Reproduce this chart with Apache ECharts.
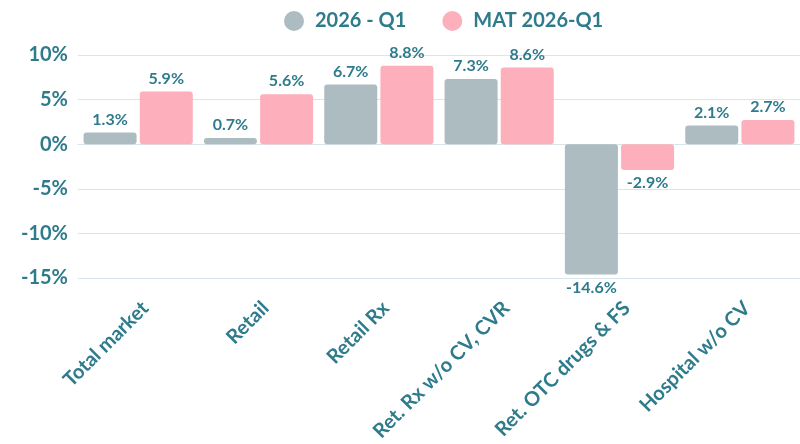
<!DOCTYPE html>
<html>
<head>
<meta charset="utf-8">
<script src="https://cdn.jsdelivr.net/npm/echarts@6/dist/echarts.min.js"></script>
<style>
  html, body { margin: 0; padding: 0; background: #fff; }
  #chart { width: 800px; height: 444px; }
</style>
</head>
<body>
<div id="chart"></div>
<script>
// 数据
const categories = ['Total market', 'Retail', 'Retail Rx', 'Ret. Rx w/o CV, CVR', 'Ret. OTC drugs & FS', 'Hospital w/o CV'];
const seriesNames = ['2026 - Q1', 'MAT 2026-Q1'];
const quarterValues = [1.3, 0.7, 6.7, 7.3, -14.6, 2.1];
const matValues = [5.9, 5.6, 8.8, 8.6, -2.9, 2.7];
const yTicks = { min: -15, max: 10, interval: 5 };

const teal = '#2e7b8c';
const greyBar = '#adbcc1';
const pinkBar = '#fdb0bb';
const gridColor = '#d8e5ea';

const chart = echarts.init(document.getElementById('chart'));

// 数值标签：正数在上，负数在下
const makeData = (values) => values.map(v => ({
  value: v,
  label: { position: v < 0 ? 'bottom' : 'top' }
}));

const barSeries = (name, values, color) => ({
  name: name,
  type: 'bar',
  data: makeData(values),
  barWidth: 53,
  barGap: '6%',
  itemStyle: { color: color, borderRadius: 3 },
  label: {
    show: true,
    color: teal,
    fontFamily: 'Lato',
    fontWeight: 'bold',
    fontSize: 16,
    distance: 5,
    formatter: p => p.value.toFixed(1) + '%'
  }
});

chart.setOption({
  animation: false,
  textStyle: { fontFamily: 'Lato' },
  legend: {
    top: 6,
    left: 279,
    icon: 'circle',
    itemWidth: 20,
    itemHeight: 20,
    itemGap: 36,
    textStyle: {
      color: teal,
      fontFamily: 'Lato',
      fontWeight: 'bold',
      fontSize: 20,
      padding: [0, 0, 0, 6]
    },
    data: seriesNames
  },
  grid: { left: 78, right: -4, top: 55, bottom: 166 },
  xAxis: {
    type: 'category',
    data: categories,
    axisTick: { show: false },
    axisLine: { lineStyle: { color: gridColor, width: 1 } },
    axisLabel: {
      rotate: 45,
      interval: 0,
      margin: 34,
      padding: [0, -10, 0, 0],
      color: teal,
      fontFamily: 'Lato',
      fontWeight: 'bold',
      fontSize: 20
    }
  },
  yAxis: {
    type: 'value',
    min: yTicks.min,
    max: yTicks.max,
    interval: yTicks.interval,
    axisLine: { show: false },
    axisTick: { show: false },
    splitLine: { lineStyle: { color: gridColor, width: 1 } },
    axisLabel: {
      margin: 10,
      color: teal,
      fontFamily: 'Lato',
      fontWeight: 'bold',
      fontSize: 20,
      formatter: v => v + '%'
    }
  },
  series: [
    barSeries(seriesNames[0], quarterValues, greyBar),
    barSeries(seriesNames[1], matValues, pinkBar)
  ]
});
</script>
</body>
</html>
